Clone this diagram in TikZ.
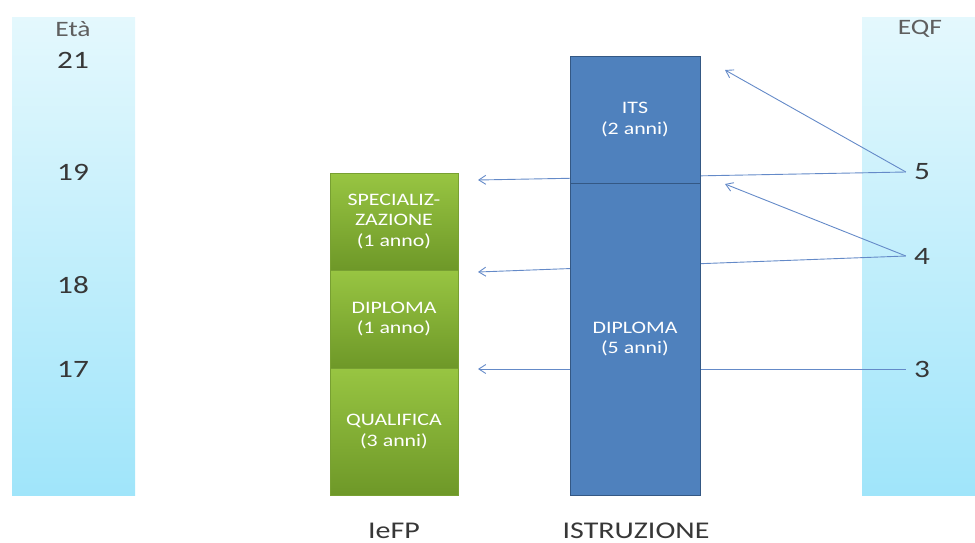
\documentclass[tikz,border=0pt]{standalone}
\usepackage{fontspec}
\setmainfont[FakeStretch=1.25]{Carlito}
\usetikzlibrary{arrows,arrows.meta}
\definecolor{bar_top}{RGB}{228,248,253}
\definecolor{bar_bot}{RGB}{160,229,250}
\definecolor{green_top}{RGB}{152,197,66}
\definecolor{green_bot}{RGB}{110,152,40}
\definecolor{edge_green}{RGB}{120,160,50}
\definecolor{box_blue}{RGB}{79,129,189}
\definecolor{edge_blue}{RGB}{52,88,132}
\definecolor{arrow_blue}{RGB}{100,138,200}
\definecolor{text_gray}{RGB}{55,55,55}

\begin{document}
\begin{tikzpicture}[->,>={Straight Barb[length=7pt,width=9pt]},x=1pt,y=-1pt]
    \tikzstyle{bar}=[anchor=north west, inner sep=0pt, minimum width=123pt, minimum height=478pt, top color=bar_top, bottom color=bar_bot]
    \tikzstyle{num}=[text=text_gray, inner sep=8pt, font=\fontsize{25}{28}\selectfont]
    \tikzstyle{head}=[text=text_gray!80, font=\fontsize{22}{24}\selectfont]
    \tikzstyle{box}=[inner sep=0pt, minimum width=128pt, align=center, text=white, font=\fontsize{17.5}{20.5}\selectfont]
    \tikzstyle{ifp}=[style=box, top color=green_top, bottom color=green_bot, draw=edge_green]
    \tikzstyle{ist}=[style=box, fill=box_blue, draw=edge_blue, minimum width=130pt, semithick]
    \tikzstyle{lab}=[text=text_gray, font=\fontsize{24}{28}\selectfont]

    \useasboundingbox (0,0) rectangle (975,543);

    % age bar and EQF bar
    \node[bar] (eta) at (12,17) {};
    \node[bar, minimum width=113pt] (eqf) at (862,17) {};
    \node[head] (heta) at (73,29) {Età};
    \node[num] (a21) at (73,60)  {21};
    \node[num] (a19) at (73,172) {19};
    \node[num] (a18) at (73,285) {18};
    \node[num] (a17) at (73,369) {17};
    \node[head] (heqf) at (920,29) {EQF};
    \node[num] (q5) at (922,172) {5};
    \node[num] (q4) at (922,256) {4};
    \node[num] (q3) at (922,369) {3};

    % targets of the arrows
    \coordinate (t5a) at (725,70);
    \coordinate (t5b) at (478,180);
    \coordinate (t4a) at (725,184);
    \coordinate (t4b) at (478,272);
    \coordinate (t3)  at (478,369);

    \path[arrow_blue, line width=0.9pt]
     (q5.west) edge (t5a)
     (q5.west) edge (t5b)
     (q4.west) edge (t4a)
     (q4.west) edge (t4b)
     (q3.west) edge (t3)
     ;

    % IeFP boxes
    \node[ifp, minimum height=97pt]  (spec) at (394,221.5) {SPECIALIZ-\\ZAZIONE\\(1 anno)};
    \node[ifp, minimum height=98pt]  (dipf) at (394,319)   {DIPLOMA\\(1 anno)};
    \node[ifp, minimum height=127pt] (qual) at (394,431.5) {QUALIFICA\\(3 anni)};

    % istruzione boxes
    \node[ist, minimum height=127pt] (its)  at (635,119.5) {ITS\\(2 anni)};
    \node[ist, minimum height=312pt] (dipi) at (635,339)   {DIPLOMA\\(5 anni)};

    \node[lab] (iefp)  at (394,531) {IeFP};
    \node[lab] (istr)  at (636,531) {ISTRUZIONE};
\end{tikzpicture}
\end{document}
